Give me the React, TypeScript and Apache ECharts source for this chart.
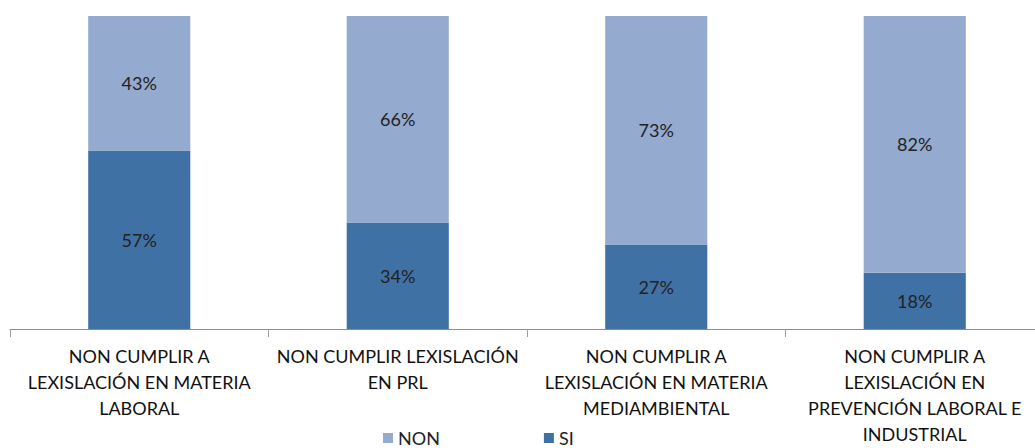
import React, { useEffect, useRef } from "react";
import * as echarts from "echarts";

const categories = [
  "NON CUMPLIR A\nLEXISLACIÓN EN MATERIA\nLABORAL",
  "NON CUMPLIR LEXISLACIÓN\nEN PRL",
  "NON CUMPLIR A\nLEXISLACIÓN EN MATERIA\nMEDIAMBIENTAL",
  "NON CUMPLIR A\nLEXISLACIÓN EN\nPREVENCIÓN LABORAL E\nINDUSTRIAL",
];
const siValues = [57, 34, 27, 18];
const nonValues = [43, 66, 73, 82];

const FONT = "Lato, 'Open Sans', sans-serif";

export default function App() {
  const ref = useRef<HTMLDivElement>(null);
  useEffect(() => {
    if (!ref.current) return;
    const chart = echarts.init(ref.current, undefined, { renderer: "svg" });
    const label = {
      show: true,
      position: "inside",
      formatter: "{c}%",
      fontSize: 18,
      color: "#222",
      fontFamily: FONT,
    };
    chart.setOption({
      animation: false,
      backgroundColor: "#ffffff",
      textStyle: { fontFamily: FONT },
      grid: { left: 10, right: 0, top: 16, bottom: 119, containLabel: false },
      legend: {
        data: ["NON", "SI"],
        left: 378,
        top: 424,
        icon: "rect",
        itemWidth: 10,
        itemHeight: 10,
        itemGap: 104,
        textStyle: { fontSize: 18, color: "#222", fontFamily: FONT },
      },
      xAxis: {
        type: "category",
        data: categories,
        axisLine: { lineStyle: { color: "#8c8c8c", width: 1 } },
        axisTick: { show: true, length: 8, lineStyle: { color: "#a0a0a0" } },
        axisLabel: {
          interval: 0,
          fontSize: 18,
          lineHeight: 26,
          margin: 14,
          color: "#111",
          fontFamily: FONT,
          align: "center",
        },
      },
      yAxis: { type: "value", min: 0, max: 100, show: false, splitLine: { show: false } },
      series: [
        {
          name: "SI",
          type: "bar",
          stack: "total",
          data: siValues,
          barWidth: "39.5%",
          itemStyle: { color: "#3F71A5" },
          label,
        },
        {
          name: "NON",
          type: "bar",
          stack: "total",
          data: nonValues,
          barWidth: "39.5%",
          itemStyle: { color: "#94AACF" },
          label,
        },
      ],
    });
    return () => chart.dispose();
  }, []);
  return (
    <div style={{ position: "fixed", left: 0, top: 0, width: 1035, height: 448, overflow: "hidden" }}>
      <div ref={ref} style={{ width: 1044, height: 448 }} />
    </div>
  );
}
